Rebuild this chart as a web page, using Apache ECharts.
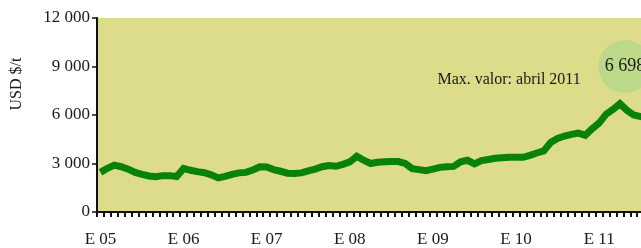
<!DOCTYPE html>
<html>
<head>
<meta charset="utf-8">
<script src="https://cdn.jsdelivr.net/npm/echarts@6/dist/echarts.min.js"></script>
<style>
  html, body { margin: 0; padding: 0; overflow: hidden; background: #fff; }
  #main { width: 700px; height: 248px; }
</style>
</head>
<body>
<div id="main"></div>
<script>
// meses de E05 a S11 (la grafica se corta a la derecha)
const years = [2005, 2006, 2007, 2008, 2009, 2010, 2011]
const months = []
years.forEach(y => {
  for (let m = 1; m <= 12; m++) months.push(y + '-' + (m < 10 ? '0' + m : m))
})
const categories = months.slice(0, 81)

// USD $/t, lectura mensual aproximada
const prices = [
  2450, 2700, 2900, 2800, 2650, 2450, 2330, 2230, 2180, 2250, 2250, 2200,
  2700, 2580, 2500, 2430, 2300, 2110, 2200, 2330, 2420, 2450, 2600, 2800,
  2780, 2620, 2520, 2400, 2380, 2420, 2540, 2650, 2800, 2870, 2830, 2950,
  3100, 3450, 3200, 3000, 3080, 3110, 3120, 3120, 3000, 2680, 2620, 2560,
  2650, 2760, 2800, 2820, 3100, 3200, 2980, 3180, 3250, 3320, 3350, 3380,
  3380, 3380, 3500, 3650, 3780, 4300, 4550, 4700, 4800, 4880, 4750, 5150,
  5500, 6050, 6350, 6698, 6300, 6000, 5900, 5850
]
const yTicks = [0, 3000, 6000, 9000, 12000]
const maxLabel = 'Max. valor: abril 2011'

const font = 'Liberation Serif'
const fmt = v => String(v).replace(/\B(?=(\d{3})+(?!\d))/g, ' ')

let myChart = echarts.init(document.getElementById('main'))
myChart.setOption({
  animation: false,
  grid: {
    left: 97,
    right: 42,
    top: 18,
    bottom: 34,
    show: true,
    backgroundColor: '#dcdc8b',
    borderWidth: 0
  },
  xAxis: {
    type: 'category',
    data: categories,
    boundaryGap: true,
    axisLine: {
      lineStyle: { color: '#111', width: 2 }
    },
    axisTick: {
      show: true,
      interval: 0,
      length: 5,
      lineStyle: { color: '#111', width: 2 }
    },
    axisLabel: {
      interval: (i) => i % 12 === 0,
      formatter: (v) => 'E ' + v.slice(2, 4),
      color: '#1a1a1a',
      fontFamily: font,
      fontSize: 17,
      margin: 19
    },
    splitLine: { show: false }
  },
  yAxis: {
    type: 'value',
    min: 0,
    max: yTicks[yTicks.length - 1],
    interval: 3000,
    name: 'USD $/t',
    nameLocation: 'middle',
    nameRotate: 90,
    nameGap: 72,
    nameTextStyle: { color: '#1a1a1a', fontFamily: font, fontSize: 16, padding: [0, 0, 0, 62] },
    axisLine: {
      show: true,
      lineStyle: { color: '#111', width: 2 }
    },
    axisTick: {
      show: true,
      length: 5,
      lineStyle: { color: '#111', width: 1.5 }
    },
    axisLabel: {
      formatter: fmt,
      color: '#1a1a1a',
      fontFamily: font,
      fontSize: 17,
      margin: 7
    },
    splitLine: { show: false }
  },
  series: [
    {
      type: 'line',
      data: prices,
      symbol: 'none',
      lineStyle: { color: '#088208', width: 7, cap: 'butt', join: 'miter' },
      markPoint: {
        silent: true,
        data: [
          {
            coord: [75, 9000],
            symbol: 'circle',
            symbolSize: 53,
            symbolOffset: [5, 0],
            itemStyle: { color: '#bcd98a' },
            label: {
              show: true,
              formatter: fmt(6698),
              color: '#1a1a1a',
              fontFamily: font,
              fontSize: 18
            }
          },
          {
            coord: [59, 8200],
            symbol: 'circle',
            symbolSize: 0,
            label: {
              show: true,
              position: 'inside',
              formatter: maxLabel,
              color: '#1a1a1a',
              fontFamily: font,
              fontSize: 16
            }
          }
        ]
      }
    }
  ]
})
</script>
</body>
</html>
